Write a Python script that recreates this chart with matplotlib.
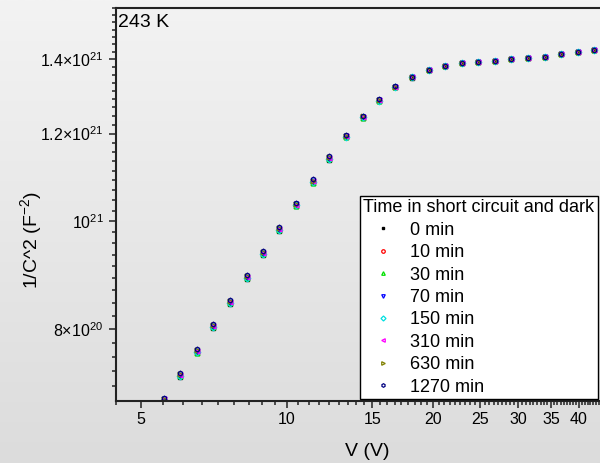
import numpy as np
import matplotlib
matplotlib.use("Agg")
import matplotlib.pyplot as plt
from matplotlib.colors import LinearSegmentedColormap
from matplotlib.ticker import FixedLocator, NullFormatter

plt.rcParams["font.family"] = ["Liberation Sans", "DejaVu Sans"]
plt.rcParams["mathtext.default"] = "regular"

# --- data (V in volts, 1/C^2 in units of 1e20 F^-2)
voltage = [5.567, 6.026, 6.512, 7.047, 7.630, 8.254, 8.906, 9.641, 10.43, 11.29,
           12.22, 13.23, 14.32, 15.45, 16.72, 18.10, 19.59, 21.17, 22.91, 24.80,
           26.85, 29.01, 31.34, 33.97, 36.78, 39.73, 43.01]

# common high-voltage tail (all series overlap there)
tail = [13.684, 13.807, 13.884, 13.932, 13.961, 14.000, 14.039, 14.078,
        14.146, 14.205, 14.273]

inv_c2_0 = [6.889, 7.242, 7.612, 8.018, 8.429, 8.877, 9.332, 9.808, 10.319, 10.830,
            11.362, 11.911, 12.395, 12.828, 13.206, 13.476] + tail
inv_c2_10 = [6.903, 7.257, 7.627, 8.034, 8.446, 8.894, 9.351, 9.828, 10.340, 10.852,
             11.384, 11.925, 12.410, 12.843, 13.214, 13.484] + tail
inv_c2_30 = [6.896, 7.250, 7.619, 8.026, 8.437, 8.886, 9.342, 9.818, 10.330, 10.841,
             11.373, 11.918, 12.403, 12.835, 13.210, 13.480] + tail
inv_c2_70 = [6.917, 7.272, 7.643, 8.051, 8.464, 8.913, 9.371, 9.848, 10.362, 10.875,
             11.409, 11.939, 12.425, 12.859, 13.223, 13.494] + tail
inv_c2_150 = [6.901, 7.255, 7.625, 8.032, 8.443, 8.892, 9.348, 9.825, 10.337, 10.849,
              11.381, 11.923, 12.408, 12.840, 13.212, 13.483] + tail
inv_c2_310 = [6.914, 7.269, 7.639, 8.047, 8.459, 8.909, 9.366, 9.843, 10.357, 10.870,
              11.403, 11.936, 12.422, 12.855, 13.220, 13.491] + tail
inv_c2_630 = [6.924, 7.280, 7.651, 8.059, 8.472, 8.922, 9.380, 9.858, 10.372, 10.886,
              11.420, 11.946, 12.433, 12.866, 13.227, 13.498] + tail
inv_c2_1270 = [6.939, 7.295, 7.667, 8.076, 8.490, 8.941, 9.400, 9.879, 10.394, 10.909,
               11.444, 11.962, 12.449, 12.883, 13.235, 13.506] + tail

series_labels = ["0 min", "10 min", "30 min", "70 min", "150 min", "310 min",
                 "630 min", "1270 min"]
series_values = [inv_c2_0, inv_c2_10, inv_c2_30, inv_c2_70, inv_c2_150, inv_c2_310,
                 inv_c2_630, inv_c2_1270]

x_ticks = [5, 10, 15, 20, 25, 30, 35, 40]
x_tick_labels = ["5", "10", "15", "20", "25", "30", "35", "40"]
y_ticks = [8e20, 1e21, 1.2e21, 1.4e21]
y_tick_labels = ["8×10$^{20}$", "10$^{21}$", "1.2×10$^{21}$", "1.4×10$^{21}$"]

# --- styles
colors = ["#000000", "#ff0000", "#00e000", "#0000ff", "#00e0e0", "#ff00ff",
          "#808000", "#000080"]
markers = ["s", "o", "^", "v", "D", "<", ">", "h"]

fig = plt.figure(figsize=(6.0, 4.63), dpi=100)

# gradient background
bg = fig.add_axes([0, 0, 1, 1], zorder=-10)
grad = LinearSegmentedColormap.from_list("bg", ["#dcdcdc", "#f3f3f3"])
bg.imshow(np.linspace(0, 1, 256).reshape(-1, 1), cmap=grad, aspect="auto",
          extent=[0, 1, 0, 1], origin="lower")
bg.axis("off")

ax = fig.add_axes([116 / 600, 62 / 463, 484 / 600, 393 / 463])
ax.set_facecolor("none")

for vals, lab, c, m in zip(series_values, series_labels, colors, markers):
    y = np.array(vals) * 1e20
    if m == "s":
        ax.plot(voltage, y, ls="none", marker=m, ms=2.6, color=c, mec=c, mfc=c, label=lab)
    else:
        ax.plot(voltage, y, ls="none", marker=m, ms=3.4, color=c, mec=c, mfc="none",
                mew=0.9, label=lab)

ax.set_xscale("log")
ax.set_yscale("log")
ax.set_xlim(4.44, 44.2)
ax.set_ylim(6.89e20, 1.557e21)

ax.xaxis.set_major_locator(FixedLocator(x_ticks))
ax.set_xticklabels(x_tick_labels)
x_minor = [b + k * 5 / 9 for b in range(0, 45, 5) for k in range(1, 9)]
ax.xaxis.set_minor_locator(FixedLocator(x_minor))
ax.xaxis.set_minor_formatter(NullFormatter())

ax.yaxis.set_major_locator(FixedLocator(y_ticks))
ax.set_yticklabels(y_tick_labels)
y_minor = [(0.6 + i * 0.2 + k * 0.2 / 9) * 1e21 for i in range(5) for k in range(1, 9)]
ax.yaxis.set_minor_locator(FixedLocator(y_minor))
ax.yaxis.set_minor_formatter(NullFormatter())

ax.tick_params(which="major", direction="out", length=5, width=1.1, labelsize=11.5,
               color="#222222", pad=3)
ax.tick_params(which="minor", direction="out", length=2.8, width=1.1, color="#222222")
ax.tick_params(axis="y", which="major", pad=4)

for side in ["left", "bottom", "top"]:
    ax.spines[side].set_linewidth(1.5)
    ax.spines[side].set_color("#222222")
ax.spines["right"].set_visible(False)

ax.set_xlabel("V (V)", fontsize=14)
ax.xaxis.set_label_coords(0.519, -0.107)
ax.set_ylabel("1/C^2 (F$^{-2}$)", fontsize=14)
ax.yaxis.set_label_coords(-0.149, 0.41)

ax.text(0.004, 0.985, "243 K", transform=ax.transAxes, ha="left", va="top", fontsize=14)

leg = ax.legend(title="Time in short circuit and dark", loc="lower right",
                bbox_to_anchor=(1.0, 0.0), borderaxespad=0.1, fontsize=13,
                title_fontsize=13, alignment="left", fancybox=False, framealpha=1,
                edgecolor="#000000", facecolor="white", markerscale=0.75,
                handlelength=2.15, handletextpad=0.45, labelspacing=0.30,
                borderpad=0.2)
leg.get_frame().set_linewidth(1.0)

fig.savefig("out.png", dpi=100)
